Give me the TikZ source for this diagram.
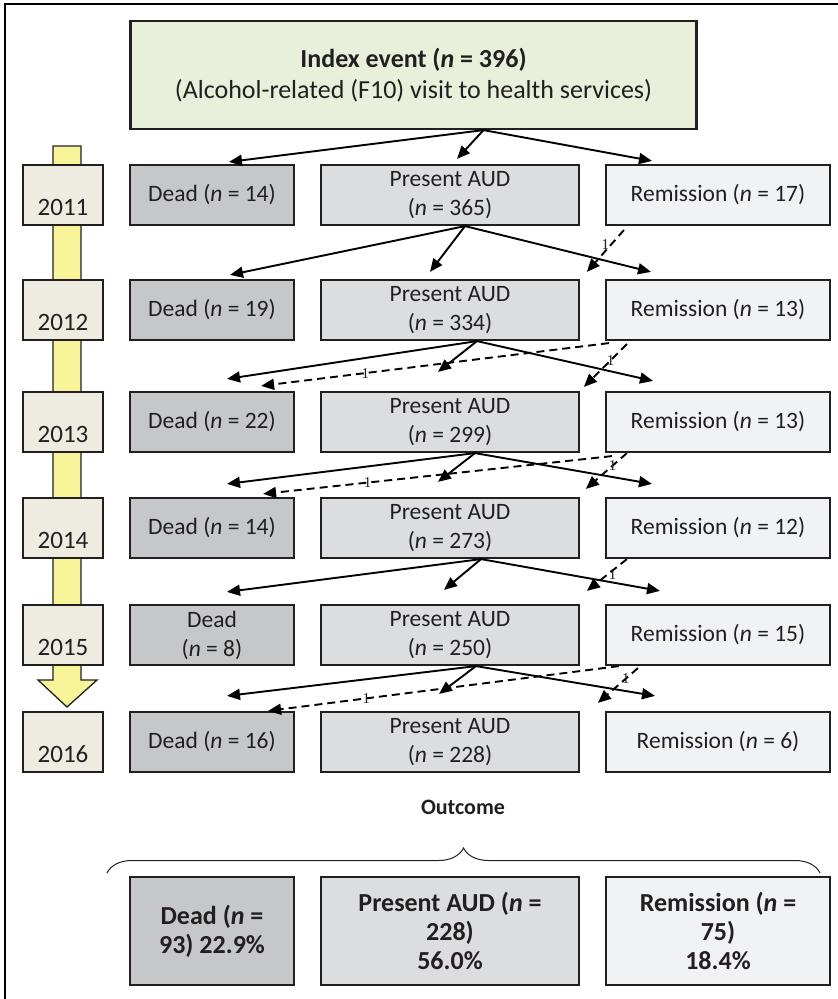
\documentclass[tikz,border=0pt]{standalone}
\usepackage{fontspec}
\setmainfont{Carlito}
\newfontfamily\numfont{Liberation Serif}
\usetikzlibrary{arrows.meta,decorations.pathreplacing}

\definecolor{inkgray}{HTML}{231F20}
\definecolor{indexfill}{HTML}{E8F0DB}
\definecolor{deadfill}{HTML}{C6C7C9}
\definecolor{presentfill}{HTML}{DCDDDF}
\definecolor{remissionfill}{HTML}{F1F2F4}
\definecolor{yearfill}{HTML}{EEEBE1}
\definecolor{timefill}{HTML}{F8F49A}

\tikzset{
  box/.style={rectangle, draw=inkgray, line width=2.2pt, text=inkgray, align=center,
    minimum height=60pt, inner sep=2pt, font=\fontsize{23.5}{29}\selectfont},
  deadbox/.style={box, fill=deadfill, minimum width=164pt},
  presentbox/.style={box, fill=presentfill, minimum width=258pt},
  remissionbox/.style={box, fill=remissionfill, minimum width=224pt},
  yearbox/.style={box, fill=yearfill, minimum width=80pt, text height=47pt, text depth=7pt,
    inner sep=3pt, font=\fontsize{25}{30}\selectfont},
  outbox/.style={box, minimum height=108pt, font=\fontsize{26}{29}\selectfont\bfseries},
  flow/.style={line width=1.9pt, -{Triangle[length=13pt,width=11pt]}},
  move/.style={flow, dash pattern=on 8pt off 5pt},
  onelabel/.style={font=\numfont\fontsize{15}{15}\selectfont, inner sep=1pt, text=inkgray}
}

\begin{document}
\begin{tikzpicture}[x=1pt,y=-1pt]
	\useasboundingbox (0,0) rectangle (838,999);
	\draw[line width=2.5pt] (5,1010) -- (5,4) -- (850,4);

	% time line behind the years
	\draw[draw=inkgray, line width=1.3pt, fill=timefill]
	  (53,146) -- (81,146) -- (81,680) -- (97,680) -- (67,707) -- (38,680) -- (53,680) -- cycle;
	\foreach \yr/\yy in {2011/195,2012/310,2013/422,2014/528,2015/635,2016/742}
	  \node[yearbox] (Y\yr) at (63,\yy) {\yr};

	\node[box, fill=indexfill, minimum width=566pt, minimum height=108pt,
	  font=\fontsize{26}{31}\selectfont] (index) at (413.5,75)
	  {\textbf{Index event (\textit{n} = 396)}\\(Alcohol-related (F10) visit to health services)};

	\node[deadbox] (D1) at (212,195) {Dead (\textit{n} = 14)};
	\node[presentbox] (P1) at (450,195) {Present AUD\\(\textit{n} = 365)};
	\node[remissionbox] (R1) at (718,195) {Remission (\textit{n} = 17)};

	\node[deadbox] (D2) at (212,310) {Dead (\textit{n} = 19)};
	\node[presentbox] (P2) at (450,310) {Present AUD\\(\textit{n} = 334)};
	\node[remissionbox] (R2) at (718,310) {Remission (\textit{n} = 13)};

	\node[deadbox] (D3) at (212,422) {Dead (\textit{n} = 22)};
	\node[presentbox] (P3) at (450,422) {Present AUD\\(\textit{n} = 299)};
	\node[remissionbox] (R3) at (718,422) {Remission (\textit{n} = 13)};

	\node[deadbox] (D4) at (212,528) {Dead (\textit{n} = 14)};
	\node[presentbox] (P4) at (450,528) {Present AUD\\(\textit{n} = 273)};
	\node[remissionbox] (R4) at (718,528) {Remission (\textit{n} = 12)};

	\node[deadbox] (D5) at (212,635) {Dead\\(\textit{n} = 8)};
	\node[presentbox] (P5) at (450,635) {Present AUD\\(\textit{n} = 250)};
	\node[remissionbox] (R5) at (718,635) {Remission (\textit{n} = 15)};

	\node[deadbox] (D6) at (212,742) {Dead (\textit{n} = 16)};
	\node[presentbox] (P6) at (450,742) {Present AUD\\(\textit{n} = 228)};
	\node[remissionbox] (R6) at (718,742) {Remission (\textit{n} = 6)};

	% 2011
	\path[flow] ([xshift=70pt]index.south)
	  edge ([xshift=17pt,yshift=2pt]D1.north)
	  edge ([xshift=7pt,yshift=5pt]P1.north)
	  edge ([xshift=-66pt,yshift=3pt]R1.north);
	% 2012
	\path[flow] ([xshift=15pt]P1.south)
	  edge ([xshift=18pt,yshift=4pt]D2.north)
	  edge ([xshift=-20pt,yshift=7pt]P2.north)
	  edge ([xshift=-67pt,yshift=7pt]R2.north);
	\path[move] ([xshift=19pt,yshift=-4pt]R1.south west)
	  edge node[onelabel, pos=0.35, left] {1} ([xshift=-18pt,yshift=7pt]R2.north west);
	% 2013
	\path[flow] ([xshift=27pt]P2.south)
	  edge ([xshift=15pt,yshift=12pt]D3.north)
	  edge ([xshift=-12pt,yshift=19pt]P3.north)
	  edge ([xshift=-65pt,yshift=10pt]R3.north);
	\path[move] ([xshift=4pt,yshift=-2pt]R2.south west)
	  edge node[onelabel, pos=0.7] {1} ([xshift=-34pt,yshift=5pt]D3.north east);
	\path[move] ([xshift=22pt,yshift=-3pt]R2.south west)
	  edge node[onelabel, pos=0.38] {1} ([xshift=-21pt,yshift=4pt]R3.north west);
	% 2014
	\path[flow] ([xshift=25pt]P3.south)
	  edge ([xshift=15pt,yshift=13pt]D4.north)
	  edge ([xshift=-12pt,yshift=15pt]P4.north)
	  edge ([xshift=-66pt,yshift=13pt]R4.north);
	\path[move] ([xshift=7pt,yshift=-3pt]R3.south west)
	  edge node[onelabel, pos=0.7] {1} ([xshift=-32pt,yshift=3pt]D4.north east);
	\path[move] ([xshift=22pt]R3.south west)
	  edge node[onelabel, pos=0.35] {1} ([xshift=-19pt,yshift=8pt]R4.north west);
	% 2015
	\path[flow] ([xshift=31pt]P4.south)
	  edge ([xshift=15pt,yshift=12pt]D5.north)
	  edge ([xshift=-6pt,yshift=14pt]P5.north)
	  edge ([xshift=-58pt,yshift=13pt]R5.north);
	\path[move] ([xshift=22pt]R4.south west)
	  edge node[onelabel, pos=0.5, right] {1} ([xshift=-18pt,yshift=13pt]R5.north west);
	% 2016
	\path[flow] ([xshift=26pt]P5.south)
	  edge ([xshift=15pt,yshift=15pt]D6.north)
	  edge ([xshift=-11pt,yshift=17pt]P6.north)
	  edge ([xshift=-63pt,yshift=15pt]R6.north);
	\path[move] ([xshift=14pt]R5.south west)
	  edge node[onelabel, pos=0.72] {1} ([xshift=-27pt]D6.north east);
	\path[move] ([xshift=33pt,yshift=-2pt]R5.south west)
	  edge node[onelabel, pos=0.3] {1} ([xshift=-7pt,yshift=8pt]R6.north west);

	% outcome
	\node[font=\fontsize{22}{26}\selectfont\bfseries, text=inkgray] (outcome) at (463,807) {Outcome};
	\coordinate (braceL) at (107,873);
	\coordinate (braceR) at (820,873);
	\draw[inkgray, line width=1pt, decorate, decoration={brace, amplitude=25pt}] (braceL) -- (braceR);

	\node[outbox, fill=deadfill, minimum width=164pt] (OD) at (212,931) {Dead (\textit{n} =\\93) 22.9\%};
	\node[outbox, fill=presentfill, minimum width=258pt] (OP) at (450,931) {Present AUD (\textit{n} =\\228)\\56.0\%};
	\node[outbox, fill=remissionfill, minimum width=224pt] (OR) at (718,931) {Remission (\textit{n} =\\75)\\18.4\%};
\end{tikzpicture}
\end{document}
